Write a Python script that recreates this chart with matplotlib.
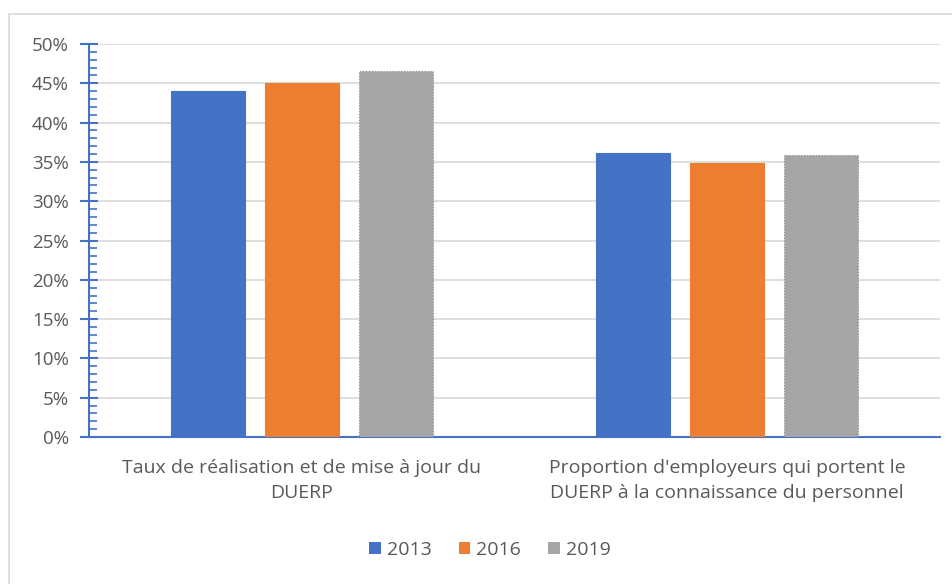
import matplotlib.pyplot as plt
import numpy as np
from matplotlib.ticker import MultipleLocator, PercentFormatter
from matplotlib.patches import Rectangle, Patch

plt.rcParams['font.family'] = ['Open Sans', 'DejaVu Sans']

# données
categories = ["Taux de réalisation et de mise à jour du\nDUERP",
              "Proportion d'employeurs qui portent le\nDUERP à la connaissance du personnel"]
years = ['2013', '2016', '2019']
values_2013 = [44.0, 36.1]
values_2016 = [45.0, 34.9]
values_2019 = [46.6, 35.9]

colors = ['#4472C4', '#ED7D31', '#A5A5A5']
text_color = '#595959'
axis_color = '#4472C4'

fig = plt.figure(figsize=(9.52, 5.84), dpi=100)
ax = fig.add_axes([89 / 952, 1 - 437 / 584, (940 - 89) / 952, (437 - 44) / 584])

# cadre extérieur (gauche + haut visibles)
fig.patches.append(Rectangle((9 / 952, -0.1), 1.2, 1 - 14 / 584 + 0.1,
                             transform=fig.transFigure, fill=False,
                             edgecolor='#D9D9D9', linewidth=1.2, zorder=0))

x = np.arange(len(categories))
width = 74 / 425.5
step = 94 / 425.5
series = [values_2013, values_2016, values_2019]
for i, (vals, year, col) in enumerate(zip(series, years, colors)):
    ec = '#8f8f8f' if year == '2019' else col
    ls = ':' if year == '2019' else '-'
    ax.bar(x + (i - 1) * step, vals, width, color=col,
           edgecolor=ec, linestyle=ls, linewidth=0.8, zorder=3)

ax.set_xlim(-0.5, 1.5)
ax.set_ylim(0, 50)
ax.yaxis.set_major_locator(MultipleLocator(5))
ax.yaxis.set_minor_locator(MultipleLocator(1))
ax.yaxis.set_major_formatter(PercentFormatter(decimals=0))
ax.grid(axis='y', color='#D9D9D9', linewidth=1.2, zorder=0)
ax.set_axisbelow(True)

for side in ['top', 'right']:
    ax.spines[side].set_visible(False)
ax.spines['left'].set_color(axis_color)
ax.spines['bottom'].set_color(axis_color)
ax.spines['left'].set_linewidth(1.5)
ax.spines['bottom'].set_linewidth(1.5)

ax.tick_params(axis='y', which='major', direction='inout', length=13, width=1.5,
               color=axis_color, labelsize=13.5, labelcolor=text_color, pad=8)
ax.tick_params(axis='y', which='minor', direction='in', length=5.5, width=1.2,
               color=axis_color)
ax.set_xticks(x)
ax.set_xticklabels(categories)
ax.tick_params(axis='x', length=0, labelsize=14, labelcolor=text_color, pad=16)
for lbl in ax.get_xticklabels():
    lbl.set_linespacing(1.45)

handles = [Patch(facecolor=c, edgecolor='none') for c in colors]
leg = fig.legend(handles, years, loc='center', bbox_to_anchor=(490 / 952, 1 - 550 / 584),
                 ncol=3, frameon=False, fontsize=14, handlelength=0.6, handleheight=0.6,
                 handletextpad=0.3, columnspacing=1.4)
for t in leg.get_texts():
    t.set_color(text_color)

fig.savefig('out.png', dpi=100)
